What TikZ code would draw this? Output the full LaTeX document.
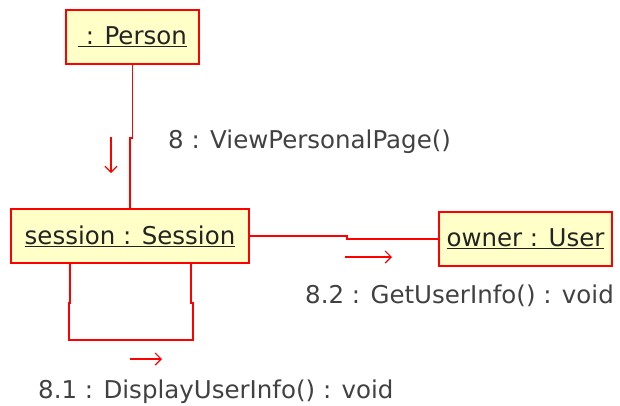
\documentclass[tikz,border=0pt]{standalone}
\usepackage{fontspec}
\setmainfont{DejaVu Sans}
\usetikzlibrary{arrows.meta}
\definecolor{umlRed}{RGB}{255, 0, 0}
\definecolor{umlFill}{RGB}{255, 255, 200}
\definecolor{umlText}{RGB}{35, 35, 35}
\definecolor{umlGray}{RGB}{65, 65, 65}
\tikzset{
    base/.style={
        font=\fontsize{24.5}{29}\selectfont
    },
    object/.style={
        base,
        rectangle,
        draw=umlRed,
        line width=2pt,
        fill=umlFill,
        text=umlText,
        inner sep=0pt,
        minimum height=54pt
    },
    link/.style={
        draw=umlRed,
        line width=1.4pt
    },
    msg/.style={
        -{Straight Barb[length=6pt, width=12pt]},
        umlRed,
        line width=1.2pt
    },
    msglabel/.style={
        base,
        text=umlGray,
        inner sep=0pt,
        anchor=base west
    }
}

\begin{document}
\begin{tikzpicture}[x=1pt, y=-1pt]
    \useasboundingbox (0,0) rectangle (620,405);

    % Objects
    \node[object, minimum width=133pt] (person) at (132.5, 37) {\underline{\ : Person}};
    \node[object, minimum width=238pt] (session) at (130, 236) {\underline{session : Session}};
    \node[object, minimum width=173pt] (owner) at (525.5, 239) {\underline{owner : User}};

    % Links
    \draw[link] (person.south) -- ++(0,73) -| (session.north);
    \draw[link] (session.east) -- ++(97,0) |- (owner.west);
    \draw[link] ([xshift=-60pt]session.south) -- ++(0,39) -- ++(-1,0) -- ++(0,37)
        -- ++(124,0) -- ++(0,-37) -- ++(-2,0) -- ++(0,-39);

    % Messages
    \coordinate (m8a) at (111, 137);
    \coordinate (m8b) at (111, 173);
    \draw[msg] (m8a) -- (m8b);
    \node[msglabel] (m8) at (168, 148) {8 : ViewPersonalPage()};

    \coordinate (m82a) at (345, 257);
    \coordinate (m82b) at (392, 257);
    \draw[msg] (m82a) -- (m82b);
    \node[msglabel] (m82) at (305, 303) {8.2 : GetUserInfo() : void};

    \coordinate (m81a) at (130, 359);
    \coordinate (m81b) at (162, 359);
    \draw[msg] (m81a) -- (m81b);
    \node[msglabel] (m81) at (38, 398) {8.1 : DisplayUserInfo() : void};

\end{tikzpicture}
\end{document}
